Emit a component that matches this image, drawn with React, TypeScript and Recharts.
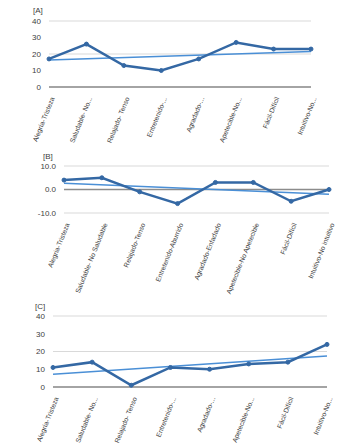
import { LineChart, Line, XAxis, YAxis, CartesianGrid, ReferenceLine } from "recharts";

const categoriesFull = [
  "Alegria-Tristeza",
  "Saludable- No Saludable",
  "Relajado-Tenso",
  "Entretenido-Aburrido",
  "Agradado-Enfadado",
  "Apetecible-No Apetecible",
  "Fácil-Difícil",
  "Intuitivo-No intuitivo",
];

const categoriesShort = [
  "Alegría-Tristeza",
  "Saludable- No...",
  "Relajado- Tenso",
  "Entretenido-...",
  "Agradado-...",
  "Apetecible-No...",
  "Fácil-Difícil",
  "Intuitivo-No...",
];

const valuesA = [17, 26, 13, 10, 17, 27, 23, 23];
const valuesB = [4, 5, -1, -6, 3, 3, -5, 0];
const valuesC = [11, 14, 1, 11, 10, 13, 14, 24];

// trend line end points
const trendA = [16.3, 21.5];
const trendB = [2.7, -2.0];
const trendC = [7.2, 17.5];

const ticks40 = [0, 10, 20, 30, 40];
const ticks10 = [-10, -5, 0, 5, 10];

const LINE = "#3468a4";
const TREND = "#4a8fd6";
const FONT = "'Liberation Sans', Arial, sans-serif";

function RotTick(props: any) {
  const { x, y, payload } = props;
  return (
    <g transform={`translate(${x + 3},${y + 2})`}>
      <text
        x={0}
        y={0}
        dy={3}
        textAnchor="end"
        transform="rotate(-68)"
        fontSize={6.8}
        fontFamily={FONT}
        fill="#404040"
      >
        {payload.value}
      </text>
    </g>
  );
}

type PanelProps = {
  label: string;
  cats: string[];
  values: number[];
  trend: number[];
  top: number;
  height: number;
  marginTop: number;
  yWidth: number;
  marginRight: number;
  xHeight: number;
  ticks: number[];
  domain: [number, number];
  fmt?: (v: number) => string;
  labelX: number;
  labelY: number;
};

function Panel(p: PanelProps) {
  const data = p.cats.map((c, i) => ({ cat: c, v: p.values[i] }));
  return (
    <div style={{ position: "absolute", left: 0, top: p.top }}>
      <div
        style={{
          position: "absolute",
          left: p.labelX,
          top: p.labelY,
          fontSize: 8,
          fontFamily: FONT,
          color: "#404040",
        }}
      >
        {p.label}
      </div>
      <LineChart
        width={341}
        height={p.height}
        data={data}
        margin={{ top: p.marginTop, right: p.marginRight, left: 0, bottom: 0 }}
      >
        <CartesianGrid vertical={false} stroke="#d9d9d9" strokeWidth={1} />
        <XAxis
          dataKey="cat"
          interval={0}
          axisLine={false}
          tickLine={false}
          height={p.xHeight}
          tick={<RotTick />}
        />
        <YAxis
          width={p.yWidth}
          domain={p.domain}
          ticks={p.ticks}
          axisLine={false}
          tickLine={false}
          tickFormatter={p.fmt}
          tick={{ fontSize: 8, fontFamily: FONT, fill: "#404040" }}
        />
        <ReferenceLine y={0} stroke="#8c8c8c" strokeWidth={1.5} />
        <ReferenceLine
          segment={[
            { x: p.cats[0], y: p.trend[0] },
            { x: p.cats[p.cats.length - 1], y: p.trend[1] },
          ]}
          stroke={TREND}
          strokeWidth={1.5}
        />
        <Line
          type="linear"
          dataKey="v"
          stroke={LINE}
          strokeWidth={2.5}
          dot={{ r: 2, fill: LINE, stroke: LINE, strokeWidth: 1 }}
          isAnimationActive={false}
        />
      </LineChart>
    </div>
  );
}

export default function App() {
  return (
    <div style={{ position: "absolute", left: 0, top: 0, width: 341, height: 444, background: "#fff", overflow: "hidden" }}>
      <Panel
        label="[A]"
        cats={categoriesShort}
        values={valuesA}
        trend={trendA}
        top={0}
        height={170}
        marginTop={21}
        yWidth={49}
        marginRight={30}
        xHeight={83}
        ticks={ticks40}
        domain={[0, 40]}
        labelX={33}
        labelY={6}
      />
      <Panel
        label="[B]"
        cats={categoriesFull}
        values={valuesB}
        trend={trendB}
        top={150}
        height={170}
        marginTop={16}
        yWidth={64}
        marginRight={12}
        xHeight={107}
        ticks={ticks10}
        domain={[-10, 10]}
        fmt={(v: number) => v.toFixed(1)}
        labelX={43}
        labelY={2}
      />
      <Panel
        label="[C]"
        cats={categoriesShort}
        values={valuesC}
        trend={trendC}
        top={300}
        height={170}
        marginTop={16}
        yWidth={53}
        marginRight={14}
        xHeight={83}
        ticks={ticks40}
        domain={[0, 40]}
        labelX={35}
        labelY={2}
      />
    </div>
  );
}
